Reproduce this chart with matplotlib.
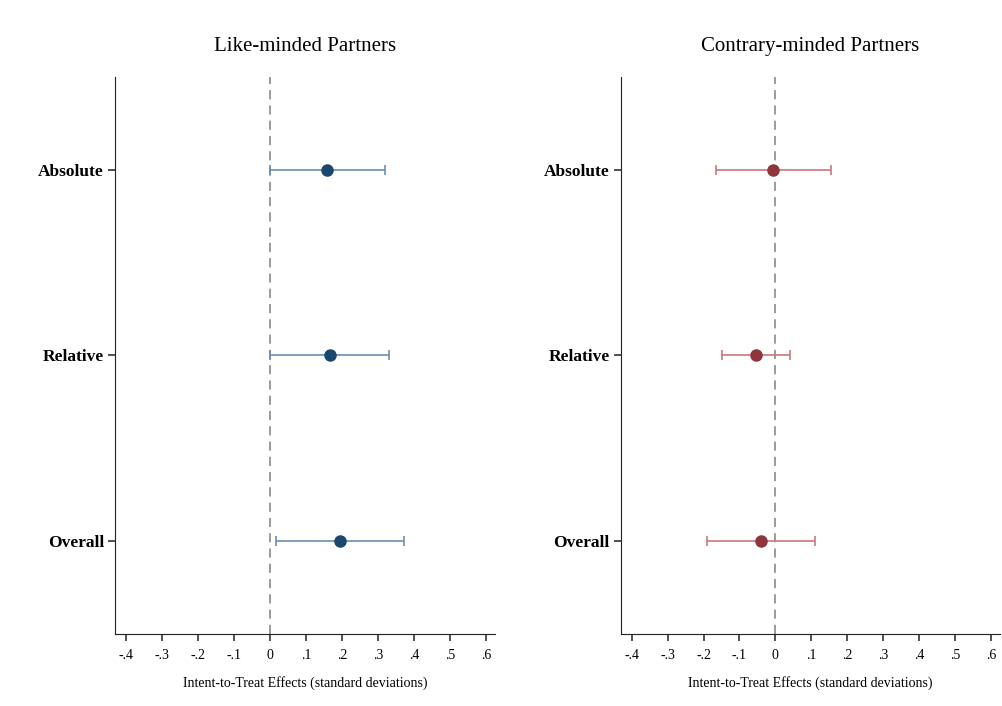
import matplotlib.pyplot as plt
import numpy as np

plt.rcParams['font.family'] = ['Liberation Serif', 'DejaVu Serif']

outcomes = ["Absolute", "Relative", "Overall"]
ypos = [3, 2, 1]

# Like-minded partners
like_est = [0.158, 0.167, 0.194]
like_lo = [0.0, 0.0, 0.017]
like_hi = [0.320, 0.330, 0.372]

# Contrary-minded partners
contra_est = [-0.006, -0.053, -0.039]
contra_lo = [-0.164, -0.148, -0.189]
contra_hi = [0.156, 0.042, 0.109]

ticks = [-0.4, -0.3, -0.2, -0.1, 0, 0.1, 0.2, 0.3, 0.4, 0.5, 0.6]
tick_labels = ["-.4", "-.3", "-.2", "-.1", "0", ".1", ".2", ".3", ".4", ".5", ".6"]

fig = plt.figure(figsize=(10.03, 7.06), dpi=100)
ax1 = fig.add_axes([0.1147, 0.102, 0.379, 0.789])
ax2 = fig.add_axes([0.619, 0.102, 0.378, 0.789])

panels = [
    (ax1, "Like-minded Partners", like_est, like_lo, like_hi, "#1a476f", "#6a8fb3"),
    (ax2, "Contrary-minded Partners", contra_est, contra_lo, contra_hi, "#90353b", "#c9787f"),
]

for ax, title, est, lo, hi, mcol, ecol in panels:
    est = np.array(est)
    err = [est - np.array(lo), np.array(hi) - est]
    ax.axvline(0, color="#808080", linestyle=(0, (6, 4)), linewidth=1.1, zorder=1)
    ax.errorbar(est, ypos, xerr=err, fmt="none", ecolor=ecol, elinewidth=1.2,
                capsize=3.5, capthick=1.2, zorder=2)
    ax.plot(est, ypos, "o", color=mcol, markersize=8, zorder=3)
    ax.set_xlim(-0.43, 0.625)
    ax.set_ylim(0.5, 3.5)
    ax.set_xticks(ticks)
    ax.set_xticklabels(tick_labels, fontsize=10)
    ax.set_yticks(ypos)
    ax.set_yticklabels(outcomes, fontsize=12.5, fontweight="bold")
    ax.spines["top"].set_visible(False)
    ax.spines["right"].set_visible(False)
    ax.spines["left"].set_color("#222222")
    ax.spines["bottom"].set_color("#222222")
    ax.tick_params(axis="x", length=5, width=1.1, color="#222222", pad=6)
    ax.tick_params(axis="y", length=5, width=1.1, color="#222222", pad=3)
    ax.set_title(title, fontsize=15, pad=19)
    ax.set_xlabel("Intent-to-Treat Effects (standard deviations)", fontsize=10, labelpad=10)

fig.savefig("out.png", dpi=100, facecolor="white")
